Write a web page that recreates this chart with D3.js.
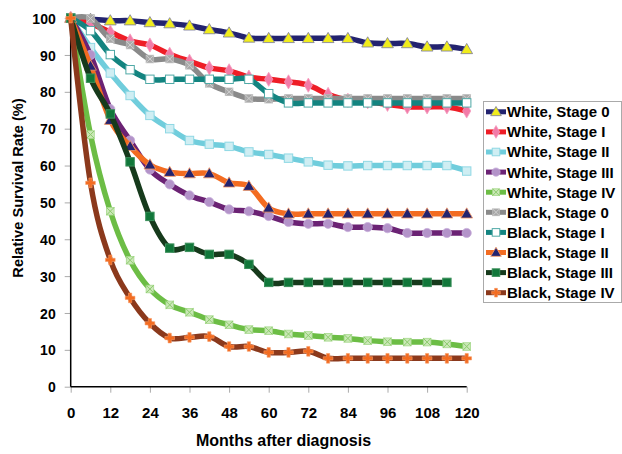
<!DOCTYPE html>
<html><head><meta charset="utf-8">
<script src="https://cdn.jsdelivr.net/npm/d3@7"></script>
<style>
body{margin:0;background:#fff;}
text{font-family:Arial,"Liberation Sans",sans-serif;font-weight:bold;}
</style></head>
<body><svg id="c" width="622" height="454"></svg>
<script>
const months = [0,6,12,18,24,30,36,42,48,54,60,66,72,78,84,90,96,102,108,114,120];
const xTicks = [0,12,24,36,48,60,72,84,96,108,120];
const yTicks = [0,10,20,30,40,50,60,70,80,90,100];
const seriesNames = ["White, Stage 0","White, Stage I","White, Stage II","White, Stage III","White, Stage IV","Black, Stage 0","Black, Stage I","Black, Stage II","Black, Stage III","Black, Stage IV"];
const whiteStage0 = [100,99.7,99.3,99.3,98.8,98.5,97.9,96.9,96.0,94.6,94.5,94.5,94.5,94.5,94.5,93.3,93.1,93.1,92.2,92.2,91.5];
const whiteStage1 = [100,98.5,96.2,93.8,92.7,90.2,88.3,86.5,85.7,84.0,83.4,82.7,81.8,79.3,77.7,77.3,76.6,75.9,75.9,75.9,74.8];
const whiteStage2 = [100,92.0,85.1,79.0,73.6,70.0,66.8,65.8,65.2,63.7,63.0,62.0,61.0,60.1,59.9,60.0,60.0,60.0,60.0,60.0,58.5];
const whiteStage3 = [100,90.0,75.3,66.8,58.9,54.9,51.9,50.1,48.1,47.6,46.3,44.7,44.2,44.2,43.3,43.3,43.0,41.7,41.7,41.7,41.7];
const whiteStage4 = [100,68.4,47.6,34.3,26.5,22.2,20.2,18.2,16.8,15.5,15.2,14.3,13.9,13.4,13.1,12.5,12.2,12.1,12.1,11.6,10.9];
const blackStage0 = [100,99.9,94.4,92.7,88.9,88.9,87.2,82.3,80.0,78.2,78.0,78.2,78.2,78.2,78.2,78.2,78.2,78.2,78.2,78.2,78.2];
const blackStage1 = [100,96.6,90.1,86.0,83.4,83.4,83.4,83.4,83.4,83.4,79.5,77.0,77.0,77.0,77.0,77.0,77.0,77.0,77.0,77.0,77.0];
const blackStage2 = [100,87.0,72.3,65.2,60.2,58.2,57.8,57.8,55.3,54.4,48.5,46.9,46.9,46.9,46.9,46.9,46.9,46.9,46.9,46.9,46.9];
const blackStage3 = [100,83.7,74.0,61.0,46.2,37.6,37.8,35.9,35.9,33.2,28.3,28.3,28.3,28.3,28.3,28.3,28.3,28.3,28.3,28.3];
const blackStage4 = [100,55.3,34.4,24.1,17.2,13.2,13.4,13.6,10.9,10.9,9.3,9.3,9.6,7.7,7.7,7.7,7.7,7.7,7.7,7.7,7.7];
const allValues = [whiteStage0,whiteStage1,whiteStage2,whiteStage3,whiteStage4,blackStage0,blackStage1,blackStage2,blackStage3,blackStage4];

const styles = [
 {line:"#23236F", fill:"#F0EC1C", stroke:"#7a7a9a", shape:"tri"},
 {line:"#EE1D26", fill:"#F27BA8", stroke:"#F5A0C0", shape:"diamond"},
 {line:"#70CDDC", fill:"#CFEEF3", stroke:"#8FD8E4", shape:"square"},
 {line:"#6B2274", fill:"#B393C9", stroke:"#C8AEDA", shape:"circle"},
 {line:"#6CBD45", fill:"#CBE8B8", stroke:"#A6D98C", shape:"xsq", xc:"#8CCB6C"},
 {line:"#8A8A8A", fill:"#A8A8A8", stroke:"#B8B8B8", shape:"xsq", xc:"#D0D0D0"},
 {line:"#138480", fill:"#FFFFFF", stroke:"#4FA9A6", shape:"square"},
 {line:"#F36C21", fill:"#23236F", stroke:"#F79A66", shape:"tri"},
 {line:"#163A1C", fill:"#11773A", stroke:"#3A8F5A", shape:"square"},
 {line:"#8B391C", fill:"#F36C21", stroke:"#F79A66", shape:"cross"}
];

const svg = d3.select("#c");
const x = d3.scaleLinear().domain([0,120]).range([70.7,466.7]);
const y = d3.scaleLinear().domain([0,100]).range([386.7,18.1]);
const FF = "Arial, 'Liberation Sans', sans-serif";

const yAx = svg.append("g").attr("transform","translate(70.7,0)")
  .call(d3.axisLeft(y).tickValues(yTicks).tickSize(6).tickPadding(9));
yAx.select(".domain").remove();
yAx.selectAll(".tick line").attr("stroke","#aaa");
yAx.selectAll(".tick text").attr("font-size",14).attr("fill","#000").attr("font-family",FF).attr("dy","0.36em");
const xAx = svg.append("g").attr("transform","translate(0,386.7)")
  .call(d3.axisBottom(x).tickValues(xTicks).tickSize(6).tickPadding(20));
xAx.select(".domain").remove();
xAx.selectAll(".tick line").attr("stroke","#aaa");
xAx.selectAll(".tick text").attr("font-size",15).attr("fill","#000").attr("font-family",FF).attr("dy","0.35em");

svg.append("line").attr("x1",70.7).attr("x2",70.7).attr("y1",y(100)).attr("y2",386.7).attr("stroke","#000").attr("stroke-width",1.5);
svg.append("line").attr("x1",70.7).attr("x2",466.7).attr("y1",386.7).attr("y2",386.7).attr("stroke","#000").attr("stroke-width",1.5);

svg.append("text").attr("transform","translate(23,188) rotate(-90)").attr("text-anchor","middle").attr("font-size",14.6).text("Relative Survival Rate (%)");
svg.append("text").attr("x",283.5).attr("y",446).attr("text-anchor","middle").attr("font-size",16).text("Months after diagnosis");

function drawMarker(g, st, cx, cy, s) {
  s = s || 1;
  if (st.shape==="tri") {
    g.append("path").attr("d",d3.symbol(d3.symbolTriangle, 60*s*s)()).attr("transform",`translate(${cx},${cy+0.8})`)
      .attr("fill",st.fill).attr("stroke",st.stroke).attr("stroke-width",0.8);
  } else if (st.shape==="diamond") {
    g.append("path").attr("d",d3.symbol(d3.symbolDiamond, 58*s*s)()).attr("transform",`translate(${cx},${cy})`)
      .attr("fill",st.fill).attr("stroke",st.stroke).attr("stroke-width",0.8);
  } else if (st.shape==="circle") {
    g.append("circle").attr("cx",cx).attr("cy",cy).attr("r",4.6*s).attr("fill",st.fill).attr("stroke",st.stroke).attr("stroke-width",0.8);
  } else if (st.shape==="square") {
    const h=4.2*s;
    g.append("rect").attr("x",cx-h).attr("y",cy-h).attr("width",2*h).attr("height",2*h)
      .attr("fill",st.fill).attr("stroke",st.stroke).attr("stroke-width",1);
  } else if (st.shape==="xsq") {
    const h=3.8*s;
    g.append("rect").attr("x",cx-h).attr("y",cy-h).attr("width",2*h).attr("height",2*h)
      .attr("fill",st.fill).attr("stroke",st.stroke).attr("stroke-width",0.8);
    g.append("path").attr("d",`M${cx-h},${cy-h}L${cx+h},${cy+h}M${cx+h},${cy-h}L${cx-h},${cy+h}`).attr("stroke",st.xc).attr("stroke-width",1);
  } else if (st.shape==="cross") {
    g.append("path").attr("d",d3.symbol(d3.symbolCross, 52*s*s)()).attr("transform",`translate(${cx},${cy})`)
      .attr("fill",st.fill).attr("stroke",st.stroke).attr("stroke-width",0.6);
  }
}

const line = d3.line().x(d=>x(d[0])).y(d=>y(d[1])).curve(d3.curveCardinal.tension(0));
allValues.forEach((vals,i)=>{
  const st = styles[i];
  const pts = vals.map((v,j)=>[months[j],v]);
  const g = svg.append("g");
  g.append("path").attr("d",line(pts)).attr("fill","none").attr("stroke",st.line).attr("stroke-width",5.5).attr("stroke-linejoin","round");
  pts.forEach(p=>drawMarker(g, st, x(p[0]), y(p[1])));
});

const lg = svg.append("g");
lg.append("rect").attr("x",483.5).attr("y",101.5).attr("width",138).attr("height",201).attr("fill","#fff").attr("stroke","#aaa").attr("stroke-width",1);
seriesNames.forEach((name,i)=>{
  const st = styles[i];
  const cy = 111.8 + i*20.1;
  lg.append("line").attr("x1",486).attr("x2",506).attr("y1",cy).attr("y2",cy).attr("stroke",st.line).attr("stroke-width",5);
  drawMarker(lg, st, 496, cy, 0.9);
  lg.append("text").attr("x",507).attr("y",cy+5.4).attr("font-size",15).text(name);
});
</script></body></html>
